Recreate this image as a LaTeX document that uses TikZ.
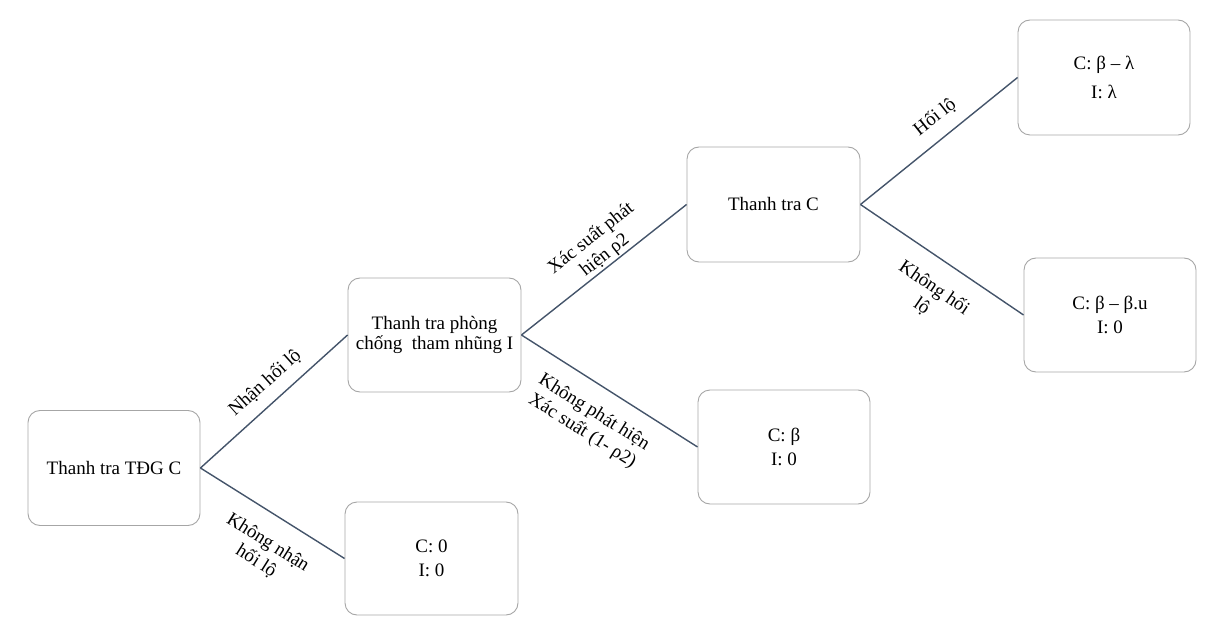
\documentclass[tikz,border=0pt]{standalone}
\usepackage{fontspec}
\setmainfont{Liberation Serif}
\definecolor{boxgray}{HTML}{A6A6A6}
\definecolor{linecol}{HTML}{44546A}
\tikzset{
  box/.style={draw=boxgray, line width=0.9pt, rounded corners=12pt, minimum width=172pt, minimum height=115pt, inner sep=2pt, align=center, font=\fontsize{19}{24}\selectfont},
  conn/.style={draw=linecol, line width=1.4pt},
  lab/.style={align=center, inner sep=0pt, font=\fontsize{19}{22}\selectfont}
}
\begin{document}
\begin{tikzpicture}[x=1pt,y=-1pt]
\useasboundingbox (0,0) rectangle (1215,628);
\node[box] (A) at (114,468) {Thanh tra TĐG C};
\node[box, minimum width=173pt, minimum height=114pt, font=\fontsize{19}{20}\selectfont] (B) at (434.5,335) {Thanh tra phòng\\chống\ \ tham nhũng I};
\node[box, minimum width=173pt, minimum height=113pt] (C) at (431.5,558.5) {C: 0\\I: 0};
\node[box, minimum width=173pt] (D) at (773.5,204.5) {Thanh tra C};
\node[box, minimum height=114pt] (E) at (784,447) {C: β\\I: 0};
\node[box] (F) at (1104,77.5) {C: β – λ\\[5pt]I: λ};
\node[box, minimum height=114pt] (G) at (1110,315) {C: β – β.u\\I: 0};
\draw[conn] (A.east) -- (B.west);
\draw[conn] (A.east) -- (C.west);
\draw[conn] (B.east) -- (D.west);
\draw[conn] (B.east) -- (E.west);
\draw[conn] (D.east) -- (F.west);
\draw[conn] (D.east) -- (G.west);
\node[lab, rotate=41.7] (lAB) at (265,383) {Nhận hối lộ};
\node[lab, rotate=-32.1] (lAC) at (262,552) {Không nhận\\hối lộ};
\node[lab, rotate=38.3] (lBD) at (598,247) {Xác suất phát\\hiện ρ2};
\node[lab, rotate=-32.1] (lBE) at (588,422) {Không phát hiện\\Xác suất (1- ρ2)};
\node[lab, rotate=38.3] (lDF) at (935,117) {Hối lộ};
\node[lab, rotate=-34.3] (lDG) at (928,297) {Không hối\\lộ};
\end{tikzpicture}
\end{document}
